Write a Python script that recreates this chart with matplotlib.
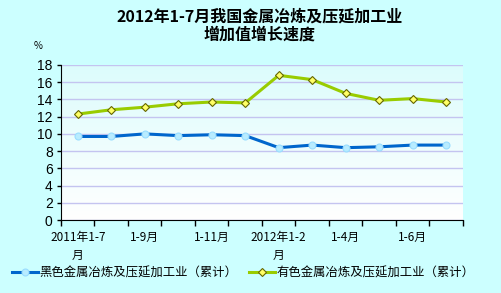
import matplotlib
matplotlib.use("Agg")
import matplotlib.pyplot as plt
import numpy as np
from matplotlib.colors import LinearSegmentedColormap

plt.rcParams['font.family'] = ['Noto Sans CJK SC', 'DejaVu Sans']

periods = ["2011年1-7月", "1-8月", "1-9月", "1-10月", "1-11月", "1-12月",
           "2012年1-2月", "1-3月", "1-4月", "1-5月", "1-6月", "1-7月"]
tick_labels = ["2011年1-7\n月", "1-9月", "1-11月", "2012年1-2\n月", "1-4月", "1-6月"]
ferrous = [9.7, 9.7, 10.0, 9.8, 9.9, 9.8, 8.4, 8.7, 8.4, 8.5, 8.7, 8.7]
nonferrous = [12.3, 12.8, 13.1, 13.5, 13.7, 13.6, 16.8, 16.3, 14.7, 13.9, 14.1, 13.7]
name_f = "黑色金属冶炼及压延加工业（累计）"
name_n = "有色金属冶炼及压延加工业（累计）"
title = "2012年1-7月我国金属冶炼及压延加工业\n增加值增长速度"

W, H = 502, 293
fig = plt.figure(figsize=(W/100, H/100), dpi=100)
fig.patch.set_facecolor('#ccffff')

ax = fig.add_axes([61/W, 1-220/H, (463-61)/W, (220-65)/H])
x = np.arange(len(periods))
ax.set_xlim(-0.5, len(periods)-0.5)
ax.set_ylim(0, 18)

grad = np.linspace(0, 1, 256).reshape(-1, 1)
cmap = LinearSegmentedColormap.from_list('g', ['#ffffff', '#dcfcfc'])
ax.imshow(grad, extent=[-0.5, len(periods)-0.5, 0, 18], origin='lower',
          aspect='auto', cmap=cmap, zorder=0)

ax.set_yticks(np.arange(0, 19, 2))
ax.yaxis.grid(True, color='#c4c4f0', linewidth=1.0, zorder=1)
ax.set_axisbelow(True)

ax.plot(x, ferrous, color='#0066cc', linewidth=2.2, marker='o', markersize=5,
        markerfacecolor='#b8ecff', markeredgecolor='#99ddff', markeredgewidth=0.8,
        zorder=3, label=name_f)
ax.plot(x, nonferrous, color='#99cc00', linewidth=2.2, marker='D', markersize=4.5,
        markerfacecolor='#ffff66', markeredgecolor='#666600', markeredgewidth=0.8,
        zorder=3, label=name_n)

for s in ['top', 'right']:
    ax.spines[s].set_visible(False)

ax.set_xticks(np.arange(-0.5, len(periods), 1.0))
ax.set_xticklabels([])
ax.tick_params(axis='x', which='major', direction='out', length=4, width=1)
ax.set_xticks(x[::2], minor=True)
ax.set_xticklabels(tick_labels, minor=True, fontsize=8.5, linespacing=1.45)
ax.tick_params(axis='x', which='minor', length=0, pad=8)
ax.tick_params(axis='y', direction='out', length=3, width=1, labelsize=10, pad=3)
for lab in ax.get_yticklabels():
    lab.set_family('Liberation Sans')

fig.text(260/W, 1-9/H, title, ha='center', va='top', fontsize=11.5,
         fontweight='bold', linespacing=1.1)
fig.text(38/W, 1-46/H, "%", ha='center', va='center', fontsize=7)

leg = fig.legend(loc='center left', bbox_to_anchor=(12/W, 1-273/H), ncol=2,
                 frameon=False, fontsize=8.9, handlelength=2.1,
                 columnspacing=0.9, handletextpad=0.15, borderaxespad=0,
                 borderpad=0)

fig.savefig('out.png', dpi=100, facecolor=fig.get_facecolor())
